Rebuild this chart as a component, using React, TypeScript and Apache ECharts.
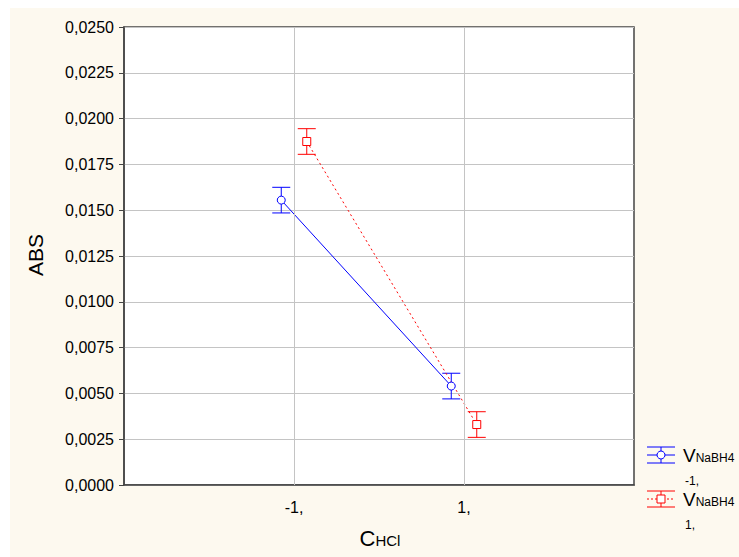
import React, { useEffect, useRef } from "react";
import * as echarts from "echarts";

const xLevels = [-1, 1];
const xTickLabels = ["-1,", "1,"];
const seriesOffset = 0.15;
const blueMeans = [0.01555, 0.0054];
const blueErr = [0.0007, 0.0007];
const redMeans = [0.01875, 0.0033];
const redErr = [0.0007, 0.0007];
const blueLegendLabel = "-1,";
const redLegendLabel = "1,";

const FONT = "Liberation Sans, Arial, sans-serif";
const BLUE = "#0000ff";
const RED = "#ff0000";

export default function App() {
  const ref = useRef<HTMLDivElement>(null);
  useEffect(() => {
    if (!ref.current) return;
    const chart = echarts.init(ref.current, null, { renderer: "svg" });

    const blueX = xLevels.map((x) => x - seriesOffset);
    const redX = xLevels.map((x) => x + seriesOffset);
    const bluePts = blueX.map((x, i) => [x, blueMeans[i]]);
    const redPts = redX.map((x, i) => [x, redMeans[i]]);
    const blueBars = blueX.map((x, i) => [x, blueMeans[i] - blueErr[i], blueMeans[i] + blueErr[i]]);
    const redBars = redX.map((x, i) => [x, redMeans[i] - redErr[i], redMeans[i] + redErr[i]]);

    const errRender = (color: string) => (params: any, api: any) => {
      const x = api.value(0);
      const lo = api.coord([x, api.value(1)]);
      const hi = api.coord([x, api.value(2)]);
      const hw = 9;
      const style = { stroke: color, lineWidth: 1 };
      return {
        type: "group",
        children: [
          { type: "line", shape: { x1: lo[0], y1: lo[1], x2: hi[0], y2: hi[1] }, style },
          { type: "line", shape: { x1: lo[0] - hw, y1: lo[1], x2: lo[0] + hw, y2: lo[1] }, style },
          { type: "line", shape: { x1: hi[0] - hw, y1: hi[1], x2: hi[0] + hw, y2: hi[1] }, style },
        ],
      };
    };

    const legendItem = (cy: number, color: string, marker: "circle" | "square", dotted: boolean, label: string) => {
      const cx = 651;
      const st = { stroke: color, lineWidth: 1 };
      const children: any[] = [
        { type: "line", shape: { x1: cx - 14, y1: cy - 8, x2: cx + 14, y2: cy - 8 }, style: st },
        { type: "line", shape: { x1: cx - 14, y1: cy + 8, x2: cx + 14, y2: cy + 8 }, style: st },
        { type: "line", shape: { x1: cx, y1: cy - 8, x2: cx, y2: cy + 8 }, style: st },
        {
          type: "line",
          shape: { x1: cx - 14, y1: cy, x2: cx + 14, y2: cy },
          style: { ...st, lineDash: dotted ? [2, 2] : null },
        },
        marker === "circle"
          ? { type: "circle", shape: { cx, cy, r: 4 }, style: { ...st, fill: "#fff" } }
          : { type: "rect", shape: { x: cx - 4, y: cy - 4, width: 8, height: 8 }, style: { ...st, fill: "#fff" } },
        {
          type: "text",
          x: 673,
          y: cy,
          style: {
            text: "{a|V}{b|NaBH4}",
            verticalAlign: "middle",
            rich: {
              a: { fontSize: 19, fontFamily: FONT, fill: "#000" },
              b: { fontSize: 12, fontFamily: FONT, fill: "#000", padding: [6, 0, 0, 0] },
            },
          },
        },
        {
          type: "text",
          x: 675,
          y: cy + 26,
          style: { text: label, fontSize: 12, fontFamily: FONT, fill: "#000", verticalAlign: "middle" },
        },
      ];
      return { type: "group", children };
    };

    chart.setOption({
      animation: false,
      backgroundColor: "#fdf9ef",
      grid: {
        left: 114,
        top: 19,
        width: 510,
        height: 458,
        show: true,
        backgroundColor: "#ffffff",
        borderColor: "#444",
        borderWidth: 1.5,
      },
      xAxis: {
        type: "value",
        min: -3,
        max: 3,
        axisLine: { show: true, onZero: false, lineStyle: { color: "#444", width: 1.5 } },
        axisTick: { show: true, inside: true, length: 4, customValues: xLevels, lineStyle: { color: "#444" } },
        axisLabel: {
          show: true,
          customValues: xLevels,
          margin: 14,
          fontSize: 16,
          fontFamily: FONT,
          color: "#000",
          formatter: (v: number) => {
            const i = xLevels.indexOf(Math.round(v));
            return i >= 0 ? xTickLabels[i] : "";
          },
        },
        splitLine: { show: false },
      },
      yAxis: {
        type: "value",
        min: 0,
        max: 0.025,
        interval: 0.0025,
        axisLine: { show: true, onZero: false, lineStyle: { color: "#444", width: 1.5 } },
        axisTick: { show: true, inside: false, length: 5, lineStyle: { color: "#444" } },
        axisLabel: {
          margin: 10,
          fontSize: 16,
          fontFamily: FONT,
          color: "#000",
          formatter: (v: number) => v.toFixed(4).replace(".", ","),
        },
        splitLine: { show: true, lineStyle: { color: "#c4c4c4", width: 1 } },
      },
      graphic: [
        {
          type: "text",
          x: 25,
          y: 247,
          rotation: Math.PI / 2,
          style: {
            text: "ABS",
            fontSize: 21,
            fontFamily: FONT,
            fill: "#000",
            align: "center",
            verticalAlign: "middle",
          },
        },
        {
          type: "text",
          x: 370,
          y: 530,
          style: {
            text: "{a|C}{b|HCl}",
            align: "center",
            verticalAlign: "middle",
            rich: {
              a: { fontSize: 22, fontFamily: FONT, fill: "#000" },
              b: { fontSize: 15, fontFamily: FONT, fill: "#000", padding: [5, 0, 0, 0] },
            },
          },
        },
        legendItem(447, BLUE, "circle", false, blueLegendLabel),
        legendItem(491, RED, "square", true, redLegendLabel),
      ],
      series: [
        {
          type: "line",
          data: [],
          silent: true,
          markLine: {
            silent: true,
            symbol: "none",
            label: { show: false },
            lineStyle: { color: "#c4c4c4", type: "solid", width: 1 },
            data: xLevels.map((x) => ({ xAxis: x })),
          },
        },
        {
          type: "line",
          data: bluePts,
          symbol: "circle",
          symbolSize: 8,
          lineStyle: { color: BLUE, width: 1 },
          itemStyle: { color: "#fff", borderColor: BLUE, borderWidth: 1 },
          z: 3,
        },
        {
          type: "line",
          data: redPts,
          symbol: "rect",
          symbolSize: 8,
          lineStyle: { color: RED, width: 1, type: [2, 3] },
          itemStyle: { color: "#fff", borderColor: RED, borderWidth: 1 },
          z: 3,
        },
        { type: "custom", data: blueBars, renderItem: errRender(BLUE), z: 2 },
        { type: "custom", data: redBars, renderItem: errRender(RED), z: 2 },
      ],
    });
    return () => chart.dispose();
  }, []);
  return (
    <div
      ref={ref}
      style={{ position: "fixed", left: 10, top: 8, width: 729, height: 549 }}
    />
  );
}
